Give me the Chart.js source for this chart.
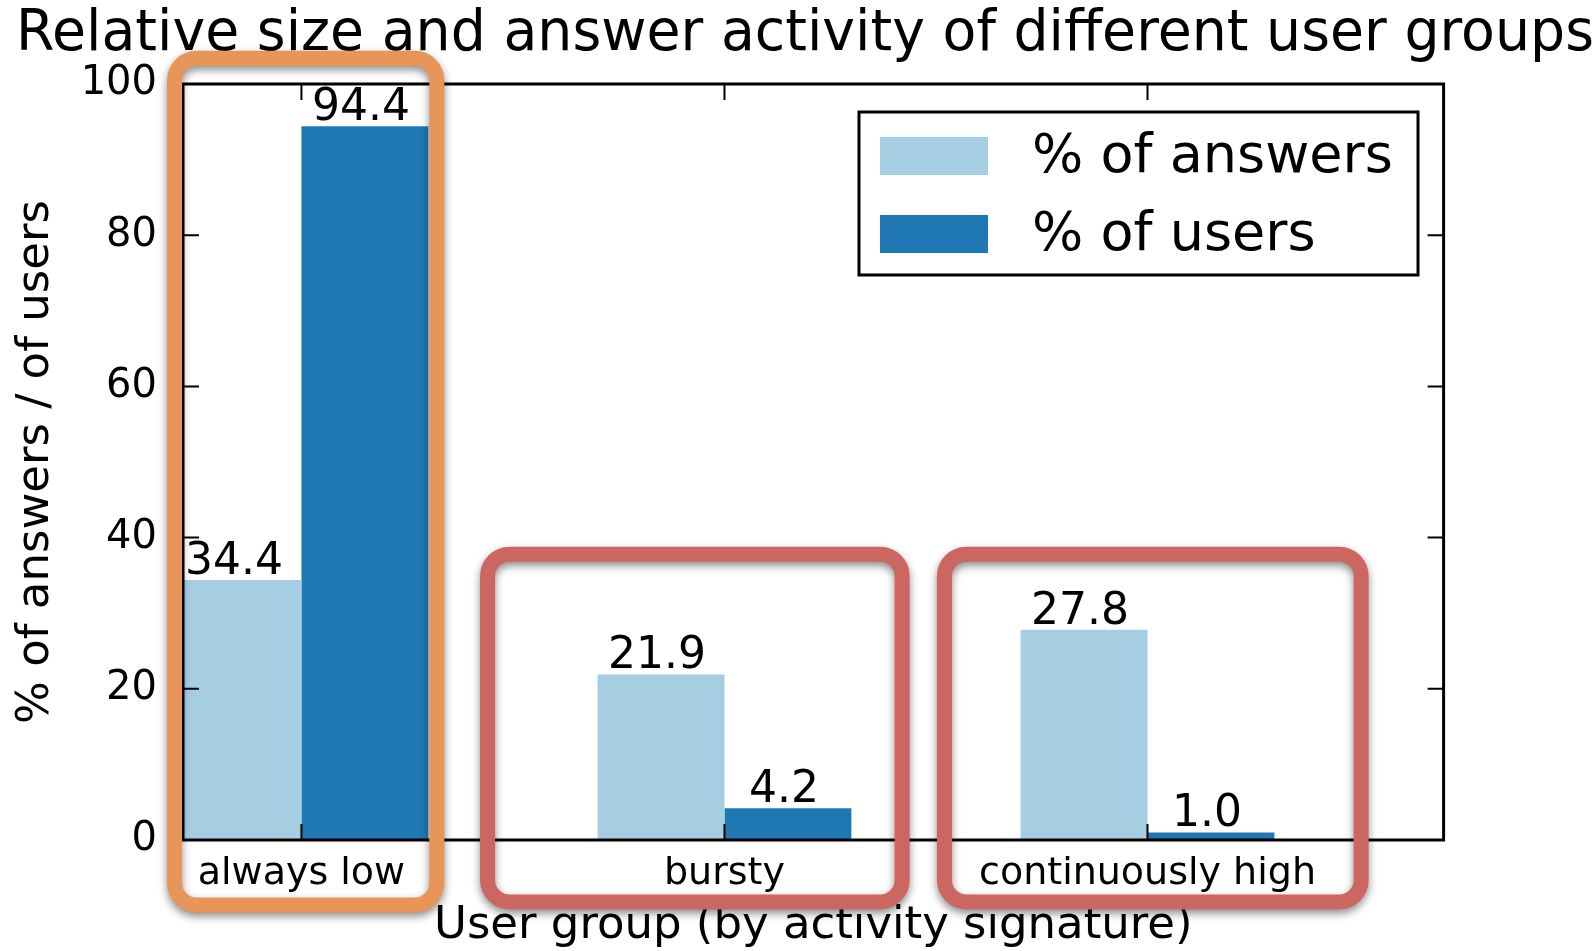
<!DOCTYPE html>
<html>
  <head>
    <meta charset="utf-8">
    <style type="text/css">
      html, body { margin: 0; padding: 0; background: #ffffff; }
      .chart-container { width: 1594px; height: 951px; }
    </style>
  </head>
  <body>
    <script src="https://cdn.jsdelivr.net/npm/chart.js@4.4.1/dist/chart.umd.min.js"></script>

    <div class="chart-container">
      <canvas id="myChart" width="1594" height="951"></canvas>
    </div>

    <script>
      /* datas */
      const groups = ['always low', 'bursty', 'continuously high'];
      const groupPos = [0, 1, 2];
      const answersPct = [34.4, 21.9, 27.8];
      const usersPct = [94.4, 4.2, 1.0];
      const yTicks = [0, 20, 40, 60, 80, 100];

      const LIGHT = '#a6cee3';
      const DARK = '#1f78b4';

      // highlight frames drawn over the plot (in data units: x from, x to, y top, y bottom)
      const frames = [
        { x0: -0.30, x1: 0.32, y0: 103.4, y1: -8.6, color: '#e8955a' },
        { x0: 0.44, x1: 1.42, y0: 37.8, y1: -8.2, color: '#cc6660' },
        { x0: 1.52, x1: 2.505, y0: 37.8, y1: -8.2, color: '#cc6660' }
      ];

      Chart.defaults.font.family = "'DejaVu Sans', sans-serif";
      Chart.defaults.color = '#000000';

      const toPoints = (vals) => vals.map((v, i) => ({ x: groupPos[i], y: v }));

      const decorations = {
        id: 'decorations',
        afterDatasetsDraw(chart) {
          const ctx = chart.ctx;
          const area = chart.chartArea;
          const xs = chart.scales.x, ys = chart.scales.y;

          // value labels on top of bars
          ctx.save();
          ctx.font = "44px 'DejaVu Sans'";
          ctx.fillStyle = '#000';
          ctx.textAlign = 'center';
          ctx.textBaseline = 'alphabetic';
          chart.data.datasets.forEach((ds, di) => {
            chart.getDatasetMeta(di).data.forEach((bar, i) => {
              ctx.fillText(ds.data[i].y.toFixed(1), bar.x - 4, bar.y - 6);
            });
          });
          ctx.restore();

          // frame + inward ticks
          ctx.save();
          ctx.strokeStyle = '#000';
          ctx.lineWidth = 3;
          ctx.strokeRect(area.left, area.top, area.right - area.left, area.bottom - area.top);
          ctx.lineWidth = 2;
          const tl = 16;
          ctx.beginPath();
          groupPos.forEach(v => {
            const px = xs.getPixelForValue(v);
            ctx.moveTo(px, area.bottom); ctx.lineTo(px, area.bottom - tl);
            ctx.moveTo(px, area.top); ctx.lineTo(px, area.top + tl);
          });
          yTicks.forEach(v => {
            const py = ys.getPixelForValue(v);
            ctx.moveTo(area.left, py); ctx.lineTo(area.left + tl, py);
            ctx.moveTo(area.right, py); ctx.lineTo(area.right - tl, py);
          });
          ctx.stroke();
          ctx.restore();

          // legend inside the plot
          ctx.save();
          const lx = 859, ly = 112, lw = 559, lh = 163;
          ctx.fillStyle = '#fff';
          ctx.fillRect(lx, ly, lw, lh);
          ctx.strokeStyle = '#000';
          ctx.lineWidth = 3;
          ctx.strokeRect(lx, ly, lw, lh);
          ctx.font = "54px 'DejaVu Sans'";
          ctx.textBaseline = 'middle';
          ctx.textAlign = 'left';
          chart.data.datasets.forEach((ds, di) => {
            const cy = ly + 44 + di * 78;
            ctx.fillStyle = ds.backgroundColor;
            ctx.fillRect(lx + 21, cy - 19, 108, 38);
            ctx.fillStyle = '#000';
            ctx.fillText(ds.label, lx + 173, cy + 2);
          });
          ctx.restore();
        },
        afterDraw(chart) {
          const ctx = chart.ctx;
          const xs = chart.scales.x, ys = chart.scales.y;
          ctx.save();
          ctx.lineWidth = 15;
          ctx.shadowColor = 'rgba(0,0,0,0.45)';
          ctx.shadowBlur = 8;
          ctx.shadowOffsetX = 0;
          ctx.shadowOffsetY = 4;
          frames.forEach(f => {
            const x0 = xs.getPixelForValue(f.x0), x1 = xs.getPixelForValue(f.x1);
            const y0 = ys.getPixelForValue(f.y0), y1 = ys.getPixelForValue(f.y1);
            ctx.strokeStyle = f.color;
            ctx.beginPath();
            ctx.roundRect(x0, y0, x1 - x0, y1 - y0, 22);
            ctx.stroke();
          });
          ctx.restore();
        }
      };

      const myChart = new Chart('myChart', {
        type: 'bar',
        data: {
          datasets: [
            { label: '% of answers', data: toPoints(answersPct), backgroundColor: LIGHT },
            { label: '% of users', data: toPoints(usersPct), backgroundColor: DARK }
          ]
        },
        plugins: [decorations],
        options: {
          responsive: false,
          animation: false,
          categoryPercentage: 0.6,
          barPercentage: 1.0,
          layout: { padding: { left: 16, right: 0, top: 0, bottom: 0 } },
          plugins: {
            legend: { display: false },
            tooltip: { enabled: false },
            title: {
              display: true,
              text: 'Relative size and answer activity of different user groups',
              font: { size: 57, weight: 'normal' },
              color: '#000',
              padding: { top: 1, bottom: 14.6 }
            }
          },
          scales: {
            x: {
              type: 'linear',
              offset: false,
              bounds: 'data',
              min: -0.28,
              max: 2.70,
              grid: { display: false },
              border: { display: false },
              afterBuildTicks: (scale) => { scale.ticks = groupPos.map(v => ({ value: v })); },
              afterFit: (scale) => { scale.height = 111; },
              ticks: {
                font: { size: 38 },
                color: '#000',
                padding: 3,
                maxRotation: 0,
                autoSkip: false,
                callback: (v) => groups[groupPos.indexOf(v)]
              },
              title: {
                display: true,
                text: 'User group (by activity signature)',
                font: { size: 45, lineHeight: 1.1 },
                color: '#000',
                padding: { top: 0, bottom: 0 }
              }
            },
            y: {
              min: 0,
              max: 100,
              grid: { display: false },
              border: { display: false },
              afterBuildTicks: (scale) => { scale.ticks = yTicks.map(v => ({ value: v })); },
              afterFit: (scale) => { scale.width = 167; },
              ticks: { font: { size: 40 }, color: '#000', padding: 18 },
              title: {
                display: true,
                text: '% of answers / of users',
                font: { size: 45, lineHeight: 0.9 },
                color: '#000',
                padding: { top: 0, bottom: 0 }
              }
            },
            yRight: {
              position: 'right',
              display: true,
              grid: { display: false },
              border: { display: false },
              ticks: { display: false },
              afterFit: (scale) => { scale.width = 150.4; }
            }
          }
        }
      });
    </script>
  </body>
</html>
